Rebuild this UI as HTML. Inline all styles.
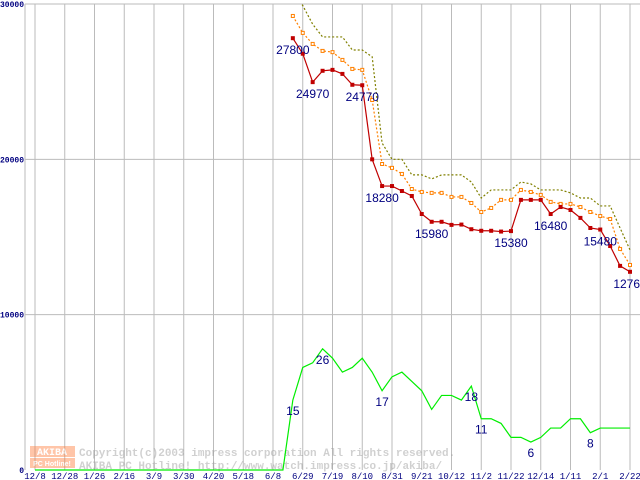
<!DOCTYPE html>
<html><head><meta charset="utf-8"><style>
html,body{margin:0;padding:0;background:#fff;}
svg{display:block;font-family:"Liberation Sans",sans-serif;}
</style></head><body>
<svg id="chart" width="640" height="480" viewBox="0 0 640 480" xmlns="http://www.w3.org/2000/svg">
<g id="grid"></g>
<g id="watermark" opacity="0.45">
  <rect x="30" y="446" width="45" height="11" fill="#ff8040"/>
  <text x="52" y="455" font-size="10" font-weight="bold" fill="#fff" text-anchor="middle" font-family="Liberation Mono,monospace">AKIBA</text>
  <rect x="30" y="458" width="45" height="10" fill="#ff8040"/>
  <text x="52" y="466" font-size="7" font-weight="bold" fill="#fff" text-anchor="middle">PC Hotline!</text>
  <text x="79" y="456" font-size="11" font-weight="bold" fill="#999" font-family="Liberation Mono,monospace">Copyright(c)2003 impress corporation All rights reserved.</text>
  <text x="79" y="469" font-size="11" font-weight="bold" fill="#999" font-family="Liberation Mono,monospace">AKIBA PC Hotline!  http://www.watch.impress.co.jp/akiba/</text>
</g>
<g id="series"></g>
</svg>
<script>
const xLabels = ["12/8","12/28","1/26","2/16","3/9","3/30","4/20","5/18","6/8","6/29","7/19","8/10","8/31","9/21","10/12","11/2","11/22","12/14","1/11","2/1","2/22"];
const yTicks = [0,10000,20000,30000];
const startIndex = 26;
const minPrice = [27800,26800,24970,25700,25760,25500,24800,24770,20000,18280,18280,17960,17640,16480,15980,15980,15780,15800,15500,15400,15400,15350,15380,17390,17390,17390,16480,16930,16740,16230,15580,15480,14420,13140,12760];
const avgPrice = [29230,28140,27430,26980,26900,26400,25820,25760,23820,19700,19450,19060,18090,17900,17840,17840,17580,17580,17190,16610,16870,17390,17390,18030,17900,17710,17260,17130,17130,16930,16610,16350,16160,14230,13200];
const maxPrice = [30800,29900,28700,27880,27880,27880,27040,27040,26600,21050,20000,20000,19000,19000,18740,19000,19000,19000,18540,17510,18030,18030,18030,18540,18420,18030,18030,18030,17840,17510,17510,17000,17000,15580,14170];
const shopCount = [15,22,23,26,24,21,22,24,21,17,20,21,19,17,13,16,16,15,18,11,11,10,7,7,6,7,9,9,11,11,8,9,9,9,9];
const minLabelIdx = [0,2,7,9,14,22,26,31,34];
const countLabelIdx = [0,3,9,18,19,24,30];
const countScale = 300;

const NS="http://www.w3.org/2000/svg";
const X = i => 35 + i*29.75/3;
const Y = v => 470 - v*466/30000;
function mk(tag, attrs, parent){const e=document.createElementNS(NS,tag);for(const k in attrs)e.setAttribute(k,attrs[k]);parent.appendChild(e);return e;}
const grid=document.getElementById('grid'), ser=document.getElementById('series');

// grid
let l=mk('line',{x1:25,y1:4,x2:25,y2:470,stroke:'#bbb'},grid);


yTicks.forEach(v=>{
  if(v>0){const g=mk('line',{x1:25,y1:Y(v),x2:640,y2:Y(v),stroke:'#bbb'},grid);
  
  }
  const t=mk('text',{x:24,y:Y(v)+3,'font-size':8,'font-weight':'bold',fill:'#000080','text-anchor':'end','font-family':'Liberation Mono,monospace'},grid);
  t.textContent=v;
  
  
});
xLabels.forEach((s,i)=>{
  const x=X(i*3);
  const g=mk('line',{x1:x,y1:4,x2:x,y2:470,stroke:'#bbb'},grid);
  
  
  const t=mk('text',{x:x,y:479,'font-size':9,fill:'#000080','text-anchor':'middle','font-family':'Liberation Mono,monospace'},grid);
  t.textContent=s;
  
  
});

// count line (green)
const cpts=[];
for(let i=0;i<startIndex;i++)cpts.push([X(i),Y(0)]);
shopCount.forEach((c,k)=>cpts.push([X(startIndex+k),Y(c*countScale)]));
const cl=mk('polyline',{points:cpts.map(p=>p.join(',')).join(' '),fill:'none',stroke:'#00ee00','stroke-width':1.2},ser);



// clip for price lines
const defs=mk('defs',{},ser);
const cp=mk('clipPath',{id:'pc'},defs);
mk('rect',{x:25,y:4,width:615,height:466},cp);

function line(arr,color,dash,name){
  const p=arr.map((v,k)=>X(startIndex+k)+','+Y(v)).join(' ');
  const e=mk('polyline',{points:p,fill:'none',stroke:color,'stroke-width':1.2,'stroke-dasharray':dash||'none','clip-path':'url(#pc)'},ser);
  
  
}
line(maxPrice,'#808000','2,2','max-price-line');
line(avgPrice,'#ff8000','2,2','avg-price-line');
line(minPrice,'#c00000',null,'min-price-line');
avgPrice.forEach((v,k)=>{
  const r=mk('rect',{x:X(startIndex+k)-1.5,y:Y(v)-1.5,width:3,height:3,fill:'#fff',stroke:'#ff8000','stroke-width':1},ser);
  
  
});
minPrice.forEach((v,k)=>{
  const r=mk('rect',{x:X(startIndex+k)-2,y:Y(v)-2,width:4,height:4,fill:'#c00000'},ser);
  
  
});
minLabelIdx.forEach(k=>{
  const t=mk('text',{x:X(startIndex+k),y:Y(minPrice[k])+16,'font-size':12,fill:'#000080','text-anchor':'middle'},ser);
  t.textContent=minPrice[k];
  
  
});
countLabelIdx.forEach(k=>{
  const t=mk('text',{x:X(startIndex+k),y:Y(shopCount[k]*countScale)+15,'font-size':12,fill:'#000080','text-anchor':'middle'},ser);
  t.textContent=shopCount[k];
  
  
});
</script>
</body></html>
